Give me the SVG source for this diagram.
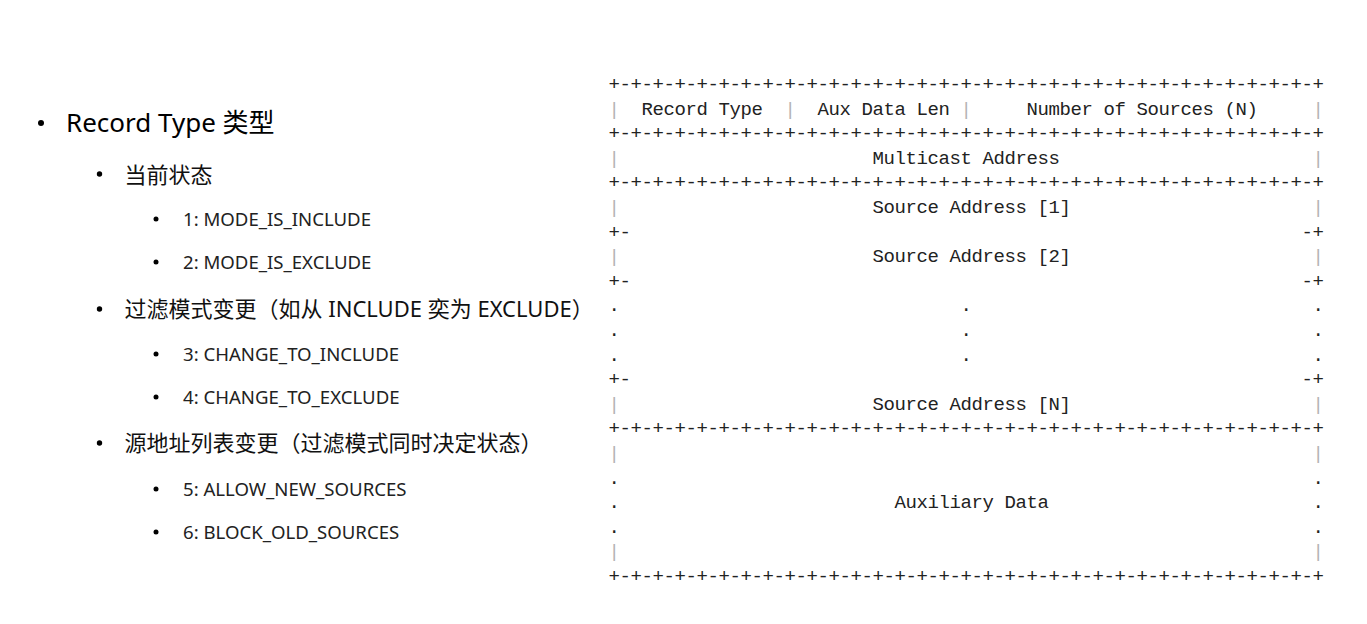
<svg xmlns="http://www.w3.org/2000/svg" width="1367" height="624" viewBox="0 0 1367 624">
<style>
.l1{font-family:"Noto Sans","Noto Sans CJK SC",sans-serif;font-size:26px;fill:#000}
.l2{font-family:"Noto Sans","Noto Sans CJK SC",sans-serif;font-size:22px;fill:#111}
.l3{font-family:"Noto Sans","Noto Sans CJK SC",sans-serif;font-size:18.6px;fill:#222}
.b{fill:#000}
.a{font-family:"Liberation Mono","Courier New",monospace;font-size:19px;letter-spacing:-0.4px;fill:#222;white-space:pre}
.p{font-family:"Liberation Mono","Courier New",monospace;font-size:19px;fill:#b4b4b4}
</style>
<rect width="1367" height="624" fill="#fff"/>
<g id="list">
<g id="item-record-type"><circle class="b" cx="41" cy="123" r="3"/><text class="l1" x="66" y="132">Record Type 类型</text></g>
<g id="item-current-state"><circle class="b" cx="99.5" cy="174" r="2.7"/><text class="l2" x="124.5" y="183">当前状态</text></g>
<g id="item-1"><circle class="b" cx="156" cy="219" r="2.5"/><text class="l3" x="183" y="226">1: MODE_IS_INCLUDE</text></g>
<g id="item-2"><circle class="b" cx="156" cy="262" r="2.5"/><text class="l3" x="183" y="269">2: MODE_IS_EXCLUDE</text></g>
<g id="item-filter-change"><circle class="b" cx="99.5" cy="309" r="2.7"/><text class="l2" x="124.5" y="317">过滤模式变更（如从 INCLUDE 奕为 EXCLUDE）</text></g>
<g id="item-3"><circle class="b" cx="156" cy="354" r="2.5"/><text class="l3" x="183" y="361">3: CHANGE_TO_INCLUDE</text></g>
<g id="item-4"><circle class="b" cx="156" cy="397" r="2.5"/><text class="l3" x="183" y="404">4: CHANGE_TO_EXCLUDE</text></g>
<g id="item-source-change"><circle class="b" cx="99.5" cy="443" r="2.7"/><text class="l2" x="124.5" y="451">源地址列表变更（过滤模式同时决定状态）</text></g>
<g id="item-5"><circle class="b" cx="156" cy="489" r="2.5"/><text class="l3" x="183" y="496">5: ALLOW_NEW_SOURCES</text></g>
<g id="item-6"><circle class="b" cx="156" cy="532" r="2.5"/><text class="l3" x="183" y="539">6: BLOCK_OLD_SOURCES</text></g>
</g>
<g id="record-format">
<g id="borders">
<text class="a" x="608.5" y="90">+-+-+-+-+-+-+-+-+-+-+-+-+-+-+-+-+-+-+-+-+-+-+-+-+-+-+-+-+-+-+-+-+</text>
<text class="a" x="608.5" y="139.2">+-+-+-+-+-+-+-+-+-+-+-+-+-+-+-+-+-+-+-+-+-+-+-+-+-+-+-+-+-+-+-+-+</text>
<text class="a" x="608.5" y="188.4">+-+-+-+-+-+-+-+-+-+-+-+-+-+-+-+-+-+-+-+-+-+-+-+-+-+-+-+-+-+-+-+-+</text>
<text class="a" x="608.5" y="237.6">+-</text><text class="a" x="1301.5" y="237.6">-+</text>
<text class="a" x="608.5" y="286.8">+-</text><text class="a" x="1301.5" y="286.8">-+</text>
<text class="a" x="608.5" y="385.2">+-</text><text class="a" x="1301.5" y="385.2">-+</text>
<text class="a" x="608.5" y="434.4">+-+-+-+-+-+-+-+-+-+-+-+-+-+-+-+-+-+-+-+-+-+-+-+-+-+-+-+-+-+-+-+-+</text>
<text class="a" x="608.5" y="582">+-+-+-+-+-+-+-+-+-+-+-+-+-+-+-+-+-+-+-+-+-+-+-+-+-+-+-+-+-+-+-+-+</text>
</g>
<g id="pipes">
<text class="p" x="608.5" y="114.6">|</text><text class="p" x="784.5" y="114.6">|</text><text class="p" x="960.5" y="114.6">|</text><text class="p" x="1312.5" y="114.6">|</text>
<text class="p" x="608.5" y="163.8">|</text><text class="p" x="1312.5" y="163.8">|</text>
<text class="p" x="608.5" y="213">|</text><text class="p" x="1312.5" y="213">|</text>
<text class="p" x="608.5" y="262.2">|</text><text class="p" x="1312.5" y="262.2">|</text>
<text class="p" x="608.5" y="409.8">|</text><text class="p" x="1312.5" y="409.8">|</text>
<text class="p" x="608.5" y="459">|</text><text class="p" x="1312.5" y="459">|</text>
<text class="p" x="608.5" y="557.4">|</text><text class="p" x="1312.5" y="557.4">|</text>
</g>
<g id="dots">
<text class="a" x="608.5" y="311.4">.</text><text class="a" x="960.5" y="311.4">.</text><text class="a" x="1312.5" y="311.4">.</text>
<text class="a" x="608.5" y="336">.</text><text class="a" x="960.5" y="336">.</text><text class="a" x="1312.5" y="336">.</text>
<text class="a" x="608.5" y="360.6">.</text><text class="a" x="960.5" y="360.6">.</text><text class="a" x="1312.5" y="360.6">.</text>
<text class="a" x="608.5" y="483.6">.</text><text class="a" x="1312.5" y="483.6">.</text>
<text class="a" x="608.5" y="508.2">.</text><text class="a" x="1312.5" y="508.2">.</text>
<text class="a" x="608.5" y="532.8">.</text><text class="a" x="1312.5" y="532.8">.</text>
</g>
<g id="fields">
<text class="a" x="641.5" y="114.6">Record Type</text>
<text class="a" x="817.5" y="114.6">Aux Data Len</text>
<text class="a" x="1026.5" y="114.6">Number of Sources (N)</text>
<text class="a" x="872.5" y="163.8">Multicast Address</text>
<text class="a" x="872.5" y="213">Source Address [1]</text>
<text class="a" x="872.5" y="262.2">Source Address [2]</text>
<text class="a" x="872.5" y="409.8">Source Address [N]</text>
<text class="a" x="894.5" y="508.2">Auxiliary Data</text>
</g>
</g>
</svg>
